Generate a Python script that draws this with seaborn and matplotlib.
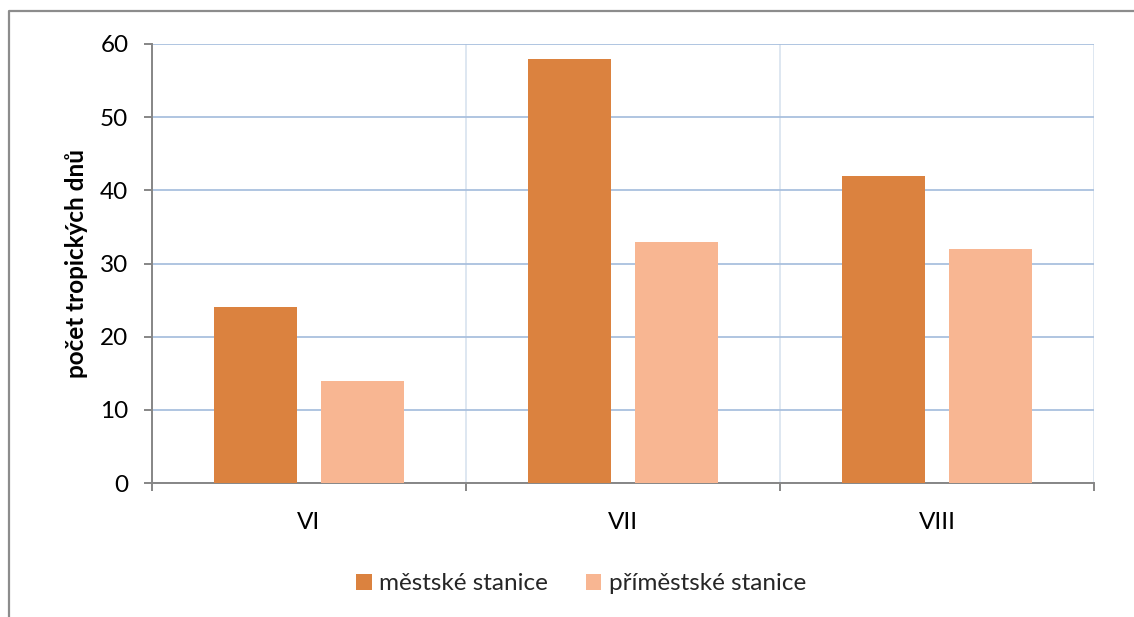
import matplotlib
matplotlib.use("Agg")
import matplotlib.pyplot as plt
from matplotlib.lines import Line2D
from matplotlib.ticker import FixedLocator
import seaborn as sns
import pandas as pd

# Počet tropických dnů podle měsíce
months = ["VI", "VII", "VIII"]
series = ["městské stanice", "příměstské stanice"]
mestske = [24, 58, 42]
primestske = [14, 33, 32]
y_ticks = [0, 10, 20, 30, 40, 50, 60]

df = pd.DataFrame({
    "mesic": months * 2,
    "typ": [series[0]] * len(months) + [series[1]] * len(months),
    "dny": mestske + primestske,
})

sns.set_theme(style="white")
plt.rcParams["font.family"] = ["Lato", "DejaVu Sans"]

W, H = 1134, 617
fig = plt.figure(figsize=(W / 100, H / 100), dpi=100)
ax = fig.add_axes([152 / W, 1 - 483 / H, (1094 - 152) / W, (483 - 44) / H])

palette = {series[0]: "#DB823F", series[1]: "#F8B692"}
sns.barplot(data=df, x="mesic", y="dny", hue="typ", order=months,
            hue_order=series, palette=palette, width=0.682, gap=0.226,
            saturation=1, linewidth=0, ax=ax, legend=True, zorder=3)

ax.set_xlim(-0.5, 2.5)
ax.set_ylim(0, 60)
ax.set_yticks(y_ticks)
ax.set_xlabel("")
ax.set_ylabel("počet tropických dnů", fontsize=17.5, fontweight="bold",
              color="#000000", labelpad=9)

# mřížka
ax.xaxis.set_minor_locator(FixedLocator([-0.5, 0.5, 1.5, 2.5]))
ax.grid(axis="y", which="major", color="#A9C0DE", linewidth=1.3, zorder=0)
ax.grid(axis="x", which="minor", color="#D5E0EE", linewidth=1.1, zorder=0)
ax.grid(axis="x", which="major", visible=False)
ax.set_axisbelow(True)

for side in ("top", "right"):
    ax.spines[side].set_visible(False)
for side in ("left", "bottom"):
    ax.spines[side].set_color("#868686")
    ax.spines[side].set_linewidth(1.4)

ax.tick_params(axis="y", which="major", direction="out", length=6,
               width=1.4, color="#868686", labelsize=17.5, pad=11,
               labelcolor="#000000", left=True)
ax.tick_params(axis="x", which="major", length=0, pad=21,
               labelsize=17.5, labelcolor="#000000")
ax.tick_params(axis="x", which="minor", direction="out", length=6,
               width=1.4, color="#868686", bottom=True)

# legenda pod grafem
handles, labels = ax.get_legend_handles_labels()
ax.get_legend().remove()
fig.legend(handles, labels, loc="center", bbox_to_anchor=(581 / W, 1 - 584 / H),
           ncol=2, frameon=False, fontsize=17.5, handlelength=0.65,
           handleheight=0.65, handletextpad=0.3, columnspacing=1.55)

# rámeček grafu
bx = 8.5 / W
by = 1 - 11 / H
fig.add_artist(Line2D([bx, bx, 1], [0, by, by], transform=fig.transFigure,
                      color="#8C8C8C", linewidth=1.6))

fig.savefig("out.png", dpi=100, facecolor="white")
